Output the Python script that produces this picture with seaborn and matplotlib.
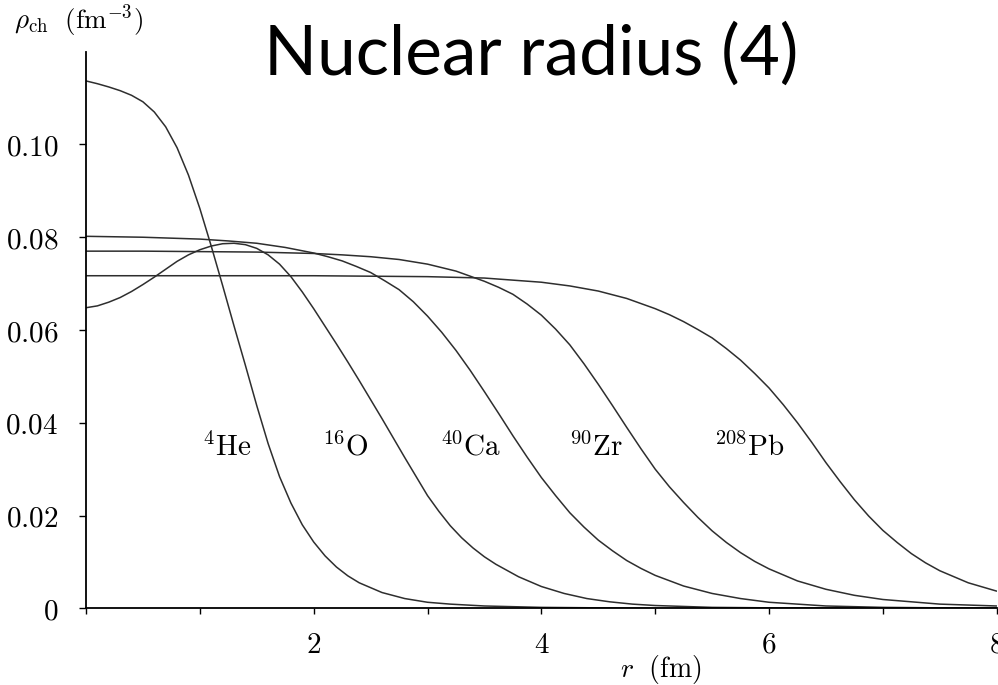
import numpy as np
import pandas as pd
import matplotlib
matplotlib.use("Agg")
import matplotlib.pyplot as plt
import seaborn as sns

# ---- data ----
r_he = [0.0, 0.1, 0.2, 0.3, 0.4, 0.5, 0.6, 0.7, 0.8, 0.9, 1.0, 1.1, 1.2, 1.3, 1.4, 1.5, 1.6,
        1.7, 1.8, 1.9, 2.0, 2.1, 2.2, 2.3, 2.4, 2.6, 2.8, 3.0, 3.2, 3.5, 4.0, 5.0, 8.0]
rho_he = [0.1137, 0.1131, 0.1124, 0.1116, 0.1106, 0.1092, 0.1070, 0.1038, 0.0993, 0.0934,
          0.0862, 0.0781, 0.0696, 0.0609, 0.0524, 0.0437, 0.0355, 0.0284, 0.0227, 0.0180,
          0.0143, 0.0113, 0.0089, 0.0070, 0.0055, 0.0034, 0.0021, 0.0013, 0.0009, 0.0005,
          0.0002, 0.0, 0.0]

r_o = [0.0, 0.1, 0.2, 0.3, 0.4, 0.5, 0.6, 0.7, 0.8, 0.9, 1.0, 1.1, 1.2, 1.3, 1.4, 1.5, 1.6,
       1.7, 1.8, 1.9, 2.0, 2.1, 2.2, 2.3, 2.4, 2.5, 2.6, 2.7, 2.8, 2.9, 3.0, 3.1, 3.2, 3.3,
       3.4, 3.5, 3.6, 3.8, 4.0, 4.2, 4.4, 4.6, 4.8, 5.0, 5.5, 6.0, 8.0]
rho_o = [0.0648, 0.0652, 0.0660, 0.0670, 0.0683, 0.0698, 0.0714, 0.0731, 0.0748, 0.0762,
         0.0773, 0.0781, 0.0786, 0.0787, 0.0784, 0.0776, 0.0762, 0.0742, 0.0715, 0.0682,
         0.0646, 0.0608, 0.0570, 0.0531, 0.0491, 0.0450, 0.0409, 0.0367, 0.0325, 0.0284,
         0.0243, 0.0209, 0.0178, 0.0152, 0.0130, 0.0111, 0.0095, 0.0068, 0.0047, 0.0032,
         0.0021, 0.0014, 0.0009, 0.0006, 0.0002, 0.0001, 0.0]

r_ca = [0.0, 0.25, 0.5, 0.75, 1.0, 1.25, 1.5, 1.75, 2.0, 2.125, 2.25, 2.375, 2.5, 2.625,
        2.75, 2.875, 3.0, 3.125, 3.25, 3.375, 3.5, 3.625, 3.75, 3.875, 4.0, 4.125, 4.25,
        4.375, 4.5, 4.625, 4.75, 4.875, 5.0, 5.25, 5.5, 5.75, 6.0, 6.5, 7.0, 8.0]
rho_ca = [0.0802, 0.0801, 0.0800, 0.0798, 0.0796, 0.0792, 0.0787, 0.0778, 0.0766, 0.0758,
          0.0749, 0.0737, 0.0724, 0.0706, 0.0687, 0.0661, 0.0630, 0.0595, 0.0556, 0.0513,
          0.0467, 0.0420, 0.0372, 0.0326, 0.0282, 0.0243, 0.0206, 0.0175, 0.0147, 0.0124,
          0.0103, 0.0086, 0.0071, 0.0048, 0.0032, 0.0021, 0.0013, 0.0005, 0.0002, 0.0]

r_zr = [0.0, 0.5, 1.0, 1.5, 2.0, 2.25, 2.5, 2.75, 3.0, 3.25, 3.5, 3.625, 3.75, 3.875, 4.0,
        4.125, 4.25, 4.375, 4.5, 4.625, 4.75, 4.875, 5.0, 5.125, 5.25, 5.375, 5.5, 5.625,
        5.75, 5.875, 6.0, 6.25, 6.5, 6.75, 7.0, 7.5, 8.0]
rho_zr = [0.0770, 0.0770, 0.0769, 0.0768, 0.0765, 0.0762, 0.0758, 0.0752, 0.0742, 0.0727,
          0.0705, 0.0692, 0.0677, 0.0656, 0.0632, 0.0602, 0.0568, 0.0527, 0.0483, 0.0437,
          0.0390, 0.0344, 0.0300, 0.0262, 0.0228, 0.0196, 0.0167, 0.0142, 0.0120, 0.0101,
          0.0085, 0.0059, 0.0041, 0.0028, 0.0019, 0.0009, 0.0005]

r_pb = [0.0, 1.0, 2.0, 2.5, 3.0, 3.5, 4.0, 4.25, 4.5, 4.75, 5.0, 5.125, 5.25, 5.375, 5.5,
        5.625, 5.75, 5.875, 6.0, 6.125, 6.25, 6.375, 6.5, 6.625, 6.75, 6.875, 7.0, 7.125,
        7.25, 7.375, 7.5, 7.75, 8.0]
rho_pb = [0.0717, 0.0717, 0.0717, 0.0716, 0.0715, 0.0712, 0.0703, 0.0695, 0.0684, 0.0668,
          0.0646, 0.0633, 0.0618, 0.0601, 0.0583, 0.0560, 0.0535, 0.0506, 0.0475, 0.0439,
          0.0400, 0.0358, 0.0314, 0.0273, 0.0234, 0.0199, 0.0168, 0.0142, 0.0118, 0.0098,
          0.0081, 0.0055, 0.0037]

nuclei = ["He", "O", "Ca", "Zr", "Pb"]
labels = [r"$^{4}\mathrm{He}$", r"$^{16}\mathrm{O}$", r"$^{40}\mathrm{Ca}$",
          r"$^{90}\mathrm{Zr}$", r"$^{208}\mathrm{Pb}$"]
label_r = [1.24, 2.28, 3.38, 4.48, 5.83]
label_rho = [0.0329, 0.0329, 0.0329, 0.0329, 0.0329]

x_ticks = [0, 1, 2, 3, 4, 5, 6, 7, 8]
x_ticklabels = ["", "", "2", "", "4", "", "6", "", "8"]
y_ticks = [0.0, 0.02, 0.04, 0.06, 0.08, 0.10]
y_ticklabels = ["0", "0.02", "0.04", "0.06", "0.08", "0.10"]

frames = []
for name, rr, yy in zip(nuclei, [r_he, r_o, r_ca, r_zr, r_pb],
                        [rho_he, rho_o, rho_ca, rho_zr, rho_pb]):
    frames.append(pd.DataFrame({"r": rr, "rho": yy, "nucleus": name}))
df = pd.concat(frames, ignore_index=True)

sns.set_theme(style="white")
plt.rcParams["mathtext.fontset"] = "cm"
plt.rcParams["font.family"] = ["DejaVu Serif"]

fig = plt.figure(figsize=(9.98, 6.85), dpi=100)
ax = fig.add_axes([86 / 998, 1 - 608.3 / 685, (996.7 - 86) / 998, (608.3 - 51.7) / 685])

line_col = "#2e2e2e"
sns.lineplot(data=df, x="r", y="rho", hue="nucleus",
             palette={n: line_col for n in nuclei}, estimator=None, sort=False,
             legend=False, linewidth=1.1, ax=ax)

ax.set_xlim(0, 8)
ax.set_ylim(0, 0.12)
for s in ["top", "right"]:
    ax.spines[s].set_visible(False)
for s in ["left", "bottom"]:
    ax.spines[s].set_color("black")
    ax.spines[s].set_linewidth(1.3)
    ax.spines[s].set_clip_on(False)

ax.set_xticks(x_ticks)
ax.set_xticklabels([("$%s$" % t) if t else "" for t in x_ticklabels], fontsize=21)
ax.set_yticks(y_ticks)
ax.set_yticklabels(["$%s$" % t for t in y_ticklabels], fontsize=21)
ax.tick_params(axis="x", direction="out", length=4, width=1.0, color="black", pad=12,
               bottom=True, labelcolor="black")
ax.tick_params(axis="y", direction="out", length=5, width=1.0, color="black", pad=15,
               left=True, labelcolor="black")
ax.set_xlabel("")
ax.set_ylabel("")

for lab, xr, yr in zip(labels, label_r, label_rho):
    ax.text(xr, yr, lab, ha="center", va="baseline", fontsize=21, color="black")

fig.text(661 / 998, 1 - 670 / 685, r"$r\ \ (\mathrm{fm})$", ha="center", va="center",
         fontsize=20, color="black")
fig.text(14 / 998, 1 - 29 / 685, r"$\rho_{\mathrm{ch}}\ \ (\mathrm{fm}^{-3})$", ha="left",
         va="baseline", fontsize=19.5, color="black")
fig.text(531 / 998, 1 - 75 / 685, "Nuclear radius (4)", ha="center", va="baseline",
         fontsize=50, family=["Lato", "DejaVu Sans"], color="black")

fig.savefig("out.png", dpi=100, facecolor="white")
